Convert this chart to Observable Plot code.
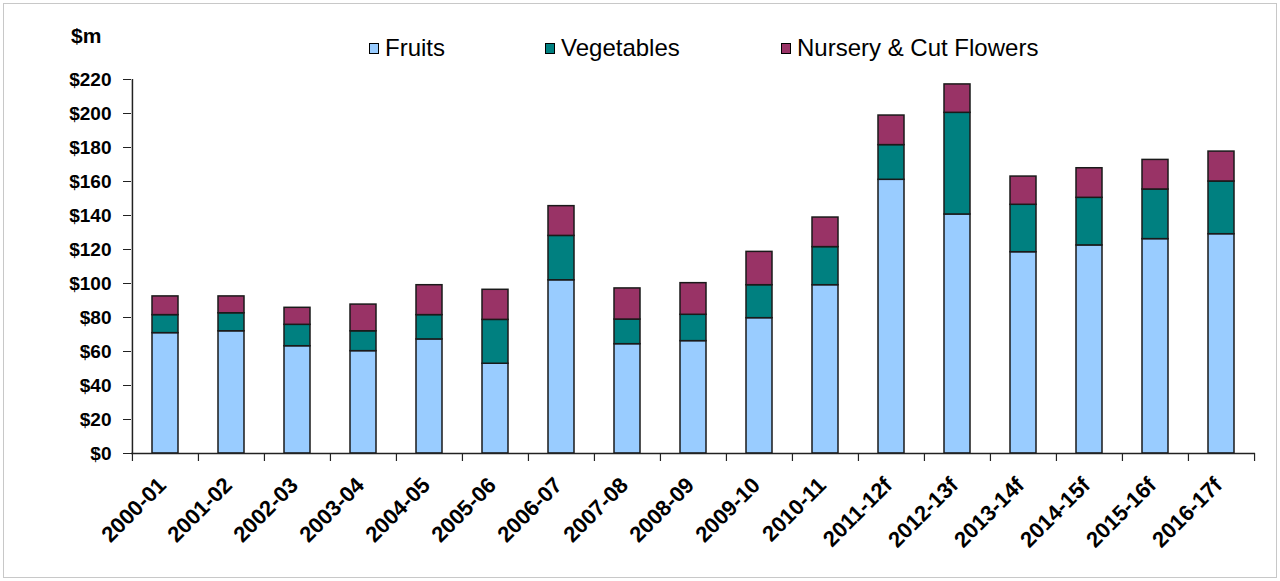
<!DOCTYPE html>
<html><head><meta charset="utf-8">
<script src="https://cdn.jsdelivr.net/npm/d3@7"></script>
<script src="https://cdn.jsdelivr.net/npm/@observablehq/plot@0.6"></script>
<style>
body{margin:0;background:#fff;font-family:"Liberation Sans",Arial,sans-serif;}
#wrap{position:relative;width:1280px;height:581px;overflow:hidden;}
#border{position:absolute;left:3px;top:3px;width:1274px;height:575px;border:1px solid #c8c8c8;box-sizing:border-box;}
#unit{position:absolute;left:71px;top:24px;font-weight:bold;font-size:21px;color:#000;}
.item{position:absolute;top:34px;height:28px;display:flex;align-items:center;white-space:nowrap;font-size:24px;color:#000;}
.sw{width:8px;height:9px;border:1px solid #000;margin-right:6px;}
#chart{position:absolute;left:0;top:0;}
</style></head><body>
<div id="wrap"><div id="border"></div><div id="unit">$m</div><div id="legend"></div><div id="chart"></div></div>
<script>
const years = ["2000-01","2001-02","2002-03","2003-04","2004-05","2005-06","2006-07","2007-08","2008-09","2009-10","2010-11","2011-12f","2012-13f","2013-14f","2014-15f","2015-16f","2016-17f"];
const seriesNames = ["Fruits","Vegetables","Nursery & Cut Flowers"];
const seriesColors = ["#99ccff","#008080","#993366"];
const fruits = [70.8,71.9,63.1,60.2,67.1,52.8,101.9,64.3,66.1,79.6,99.0,161.0,140.6,118.4,122.4,126.1,129.0];
const vegetables = [10.6,10.6,12.6,11.7,14.3,25.8,26.1,14.5,15.5,19.4,22.4,20.4,59.8,27.9,28.0,29.2,31.0];
const nursery = [11.0,9.9,10.0,15.7,17.6,17.7,17.5,18.3,18.6,19.6,17.4,17.4,16.7,16.6,17.4,17.4,17.6];
const yTicks = [0,20,40,60,80,100,120,140,160,180,200,220];

const seriesValues = [fruits, vegetables, nursery];
const data = years.flatMap((yr, i) => seriesNames.map((s, k) => ({year: yr, series: s, value: seriesValues[k][i]})));

// legend
const legendLeft = [369, 545, 781];
const legend = document.getElementById("legend");
seriesNames.forEach((s, k) => {
  const it = document.createElement("div");
  it.className = "item";
  it.style.left = legendLeft[k] + "px";
  const sw = document.createElement("span");
  sw.className = "sw";
  sw.style.background = seriesColors[k];
  const tx = document.createElement("span");
  tx.textContent = s;
  it.appendChild(sw); it.appendChild(tx);
  legend.appendChild(it);
});

const W = 1280, H = 581, mL = 131, mR = 25, mT = 79, mB = 128;
const step = (W - mL - mR) / years.length;
const axisColor = "#222";

const chart = Plot.plot({
  width: W, height: H,
  marginLeft: mL, marginRight: mR, marginTop: mT, marginBottom: mB,
  style: {fontFamily: "'Liberation Sans', Arial, sans-serif", background: "transparent", color: "#000", overflow: "visible"},
  x: {domain: years, paddingInner: 0.6, paddingOuter: 0.3},
  y: {domain: [0, 220]},
  color: {domain: seriesNames, range: seriesColors},
  marks: [
    Plot.barY(data, {x: "year", y: "value", fill: "series", stroke: "#1a1a1a", strokeWidth: 1.5}),
    Plot.ruleY([0], {stroke: axisColor, strokeWidth: 1.5}),
    Plot.ruleX([years[0]], {x: d => d, y1: 0, y2: 220, dx: -step / 2, stroke: axisColor, strokeWidth: 1.5}),
    Plot.ruleX(years, {x: d => d, y1: 0, y2: 0, dx: -step / 2, insetBottom: -8, stroke: axisColor, strokeWidth: 1.2}),
    Plot.ruleX([years[years.length - 1]], {x: d => d, y1: 0, y2: 0, dx: step / 2, insetBottom: -8, stroke: axisColor, strokeWidth: 1.2}),
    Plot.axisY({ticks: yTicks, tickFormat: d => "$" + d, tickSize: 8, tickPadding: 12, fontSize: 19, fontWeight: "bold", label: null, stroke: axisColor}),
    Plot.axisX({tickSize: 0, tickRotate: -45, tickPadding: 28, dx: -3, fontSize: 22, fontWeight: "bold", label: null})
  ]
});
document.getElementById("chart").appendChild(chart);
</script>
</body></html>
